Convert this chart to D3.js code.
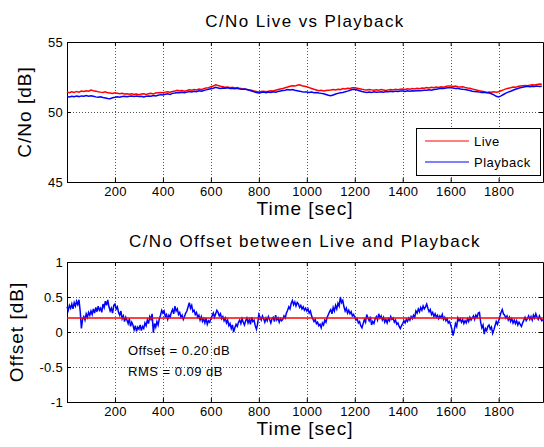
<!DOCTYPE html>
<html>
<head>
<meta charset="utf-8">
<script src="https://cdn.jsdelivr.net/npm/d3@7"></script>
<style>
body{margin:0;background:#fff;}
</style>
</head>
<body>
<script>
// C/No samples every 10 s, offset samples every 5 s
var liveStep=10, offStep=5
var live=[
51.43,51.38,51.45,51.40,51.47,51.42,51.50,51.46,51.52,51.48,
51.57,51.52,51.49,51.45,51.42,51.40,51.44,51.37,51.36,51.32,
51.38,51.34,51.30,51.33,51.28,51.31,51.27,51.30,51.26,51.29,
51.24,51.28,51.31,51.26,51.30,51.33,51.29,51.35,51.38,51.40,
51.37,51.42,51.45,51.41,51.47,51.50,51.55,51.51,51.54,51.49,
51.53,51.58,51.55,51.61,51.57,51.64,51.60,51.67,51.71,51.74,
51.80,51.86,51.95,51.89,51.84,51.81,51.76,51.79,51.74,51.77,
51.72,51.75,51.69,51.66,51.64,51.61,51.58,51.55,51.50,51.47,
51.43,51.46,51.48,51.44,51.49,51.52,51.50,51.55,51.60,51.64,
51.68,51.73,51.78,51.84,51.88,51.85,51.91,51.95,51.88,51.84,
51.80,51.74,51.68,51.62,51.57,51.52,51.55,51.50,51.54,51.56,
51.57,51.61,51.58,51.63,51.60,51.67,51.64,51.70,51.68,51.73,
51.74,51.70,51.66,51.62,51.59,51.57,51.61,51.58,51.55,51.59,
51.56,51.60,51.57,51.54,51.58,51.61,51.58,51.62,51.59,51.63,
51.64,51.61,51.66,51.63,51.68,51.65,51.70,51.67,51.72,51.69,
51.74,51.71,51.76,51.73,51.78,51.75,51.80,51.77,51.83,51.86,
51.86,51.82,51.85,51.80,51.78,51.81,51.76,51.72,51.69,51.65,
51.60,51.56,51.52,51.49,51.45,51.40,51.43,51.41,51.44,51.42,
51.45,51.52,51.58,51.65,51.70,51.73,51.78,51.76,51.82,51.86,
51.88,51.90,51.87,51.92,51.95,51.93,51.97,52.00,51.98]
var playback=[
51.11,51.08,51.12,51.09,51.14,51.10,51.15,51.12,51.17,51.13,
51.16,51.12,51.08,51.05,51.09,51.03,51.00,50.97,50.95,51.02,
51.05,51.09,51.06,51.10,51.13,51.09,51.12,51.15,51.11,51.14,
51.10,51.13,51.08,51.12,51.15,51.12,51.17,51.14,51.20,51.24,
51.22,51.27,51.30,51.26,51.33,51.36,51.40,51.37,51.41,51.38,
51.42,51.46,51.43,51.48,51.45,51.52,51.49,51.54,51.58,51.62,
51.66,51.70,51.76,51.72,51.68,51.71,51.69,51.73,51.68,51.70,
51.66,51.69,51.65,51.63,51.64,51.60,51.55,51.50,51.45,51.40,
51.36,51.39,51.42,51.38,51.43,51.40,51.45,51.42,51.47,51.50,
51.53,51.56,51.60,51.57,51.60,51.55,51.52,51.49,51.45,51.42,
51.42,51.39,51.42,51.38,51.40,51.36,51.33,51.30,51.25,51.20,
51.16,51.22,51.28,51.33,51.37,51.40,51.44,51.49,51.55,51.60,
51.62,51.57,51.52,51.47,51.43,51.40,51.43,51.40,51.44,51.41,
51.42,51.45,51.42,51.46,51.44,51.48,51.45,51.49,51.47,51.50,
51.50,51.47,51.51,51.49,51.52,51.50,51.53,51.51,51.54,51.55,
51.55,51.58,51.56,51.60,51.63,51.66,51.70,51.68,51.72,51.74,
51.74,51.71,51.68,51.70,51.65,51.62,51.60,51.57,51.53,51.49,
51.46,51.44,51.42,51.40,51.41,51.38,51.35,51.30,51.22,51.12,
51.07,51.15,51.25,51.35,51.42,51.48,51.55,51.62,51.68,51.73,
51.77,51.80,51.83,51.81,51.84,51.82,51.85,51.83,51.84]
var offset=[
0.36,0.31,0.38,0.34,0.40,0.33,0.42,0.37,0.44,0.39,0.46,0.30,0.05,0.18,0.22,0.17,0.26,0.21,0.28,0.24,
0.30,0.25,0.33,0.27,0.35,0.29,0.37,0.31,0.34,0.28,0.40,0.35,0.44,0.38,0.46,0.36,0.30,0.34,0.27,0.38,
0.40,0.33,0.36,0.28,0.24,0.30,0.19,0.23,0.15,0.21,0.17,0.12,0.19,0.08,0.14,0.10,0.03,0.09,0.01,0.07,
0.04,0.10,0.02,0.08,0.05,0.13,0.09,0.17,0.12,0.22,0.18,0.26,-0.01,0.12,0.07,0.15,0.10,0.19,0.24,0.31,
0.27,0.30,0.22,0.25,0.18,0.24,0.21,0.28,0.32,0.26,0.37,0.30,0.33,0.25,0.28,0.21,0.24,0.18,0.22,0.27,
0.30,0.36,0.42,0.34,0.38,0.29,0.31,0.25,0.28,0.21,0.24,0.17,0.22,0.15,0.19,0.13,0.20,0.11,0.16,0.14,
0.19,0.23,0.27,0.21,0.26,0.31,0.28,0.23,0.26,0.19,0.22,0.16,0.20,0.13,0.17,0.09,0.12,0.05,0.10,0.00,
0.06,0.11,0.08,0.14,0.17,0.12,0.19,0.14,0.10,0.16,0.20,0.13,0.18,0.11,0.21,0.15,0.17,0.09,0.04,0.12,
0.25,0.21,0.17,0.23,0.19,0.14,0.20,0.16,0.22,0.18,0.13,0.19,0.21,0.15,0.24,0.17,0.20,0.14,0.19,0.16,
0.18,0.23,0.20,0.27,0.31,0.36,0.33,0.41,0.45,0.39,0.43,0.37,0.42,0.40,0.35,0.38,0.33,0.36,0.31,0.34,
0.30,0.33,0.27,0.30,0.23,0.19,0.15,0.18,0.12,0.14,0.09,0.11,0.06,0.13,0.10,0.17,0.14,0.21,0.25,0.29,
0.32,0.26,0.35,0.30,0.38,0.33,0.41,0.37,0.50,0.42,0.45,0.36,0.30,0.34,0.27,0.31,0.26,0.29,0.23,0.25,
0.21,0.17,0.19,0.13,0.15,0.09,0.06,0.12,0.18,0.14,0.25,0.20,0.16,0.22,0.10,0.15,0.12,0.19,0.22,0.17,
0.26,0.20,0.23,0.17,0.21,0.14,0.18,0.13,0.19,0.16,0.22,0.18,0.20,0.14,0.17,0.11,0.13,0.08,0.05,0.09,
0.12,0.16,0.13,0.18,0.15,0.20,0.17,0.22,0.19,0.24,0.21,0.30,0.27,0.33,0.29,0.35,0.31,0.37,0.33,0.36,
0.40,0.34,0.29,0.32,0.25,0.28,0.22,0.26,0.21,0.24,0.19,0.23,0.20,0.25,0.18,0.21,0.16,0.19,0.13,0.15,
0.10,0.04,-0.05,0.03,0.12,0.08,0.20,0.16,0.19,0.14,0.18,0.12,0.16,0.13,0.19,0.15,0.21,0.17,0.20,0.23,
0.18,0.24,0.21,0.27,0.28,0.14,0.06,0.10,-0.03,0.05,0.02,0.08,0.10,0.04,0.07,-0.02,0.03,0.09,0.15,0.11,
0.16,0.22,0.28,0.32,0.26,0.24,0.20,0.23,0.17,0.21,0.15,0.19,0.13,0.17,0.12,0.16,0.10,0.14,0.11,0.08,
0.13,0.17,0.21,0.16,0.19,0.23,0.18,0.22,0.17,0.24,0.20,0.26,0.21,0.18,0.23,0.19,0.16,0.18]
var offsetMean=0.20, offsetRms=0.09
var xTicks=[200,400,600,800,1000,1200,1400,1600,1800]
var yTicksTop=[45,50,55]
var yTicksBot=[-1,-0.5,0,0.5,1]
var xDomain=[0,1985]

var FONT="'Liberation Sans'"
function txt(sel,size,ls){
  return sel.style("font-family",FONT).style("font-size",size+"px")
    .style("letter-spacing",ls+"px").style("font-weight","normal").attr("fill","#000")
}

var svg=d3.select("body").append("svg").attr("width",544).attr("height",447)

var x=d3.scaleLinear().domain(xDomain).range([67,543])

function panel(top,bottom,yDom,yTicks,title,ylab,ylabX){
  var y=d3.scaleLinear().domain(yDom).range([bottom,top])
  var g=svg.append("g")
  // grid
  g.selectAll("line.gx").data(xTicks).enter().append("line")
    .attr("x1",function(d){return Math.round(x(d))+0.5}).attr("x2",function(d){return Math.round(x(d))+0.5})
    .attr("y1",top).attr("y2",bottom)
    .attr("stroke","#555").attr("stroke-dasharray","1,2").attr("stroke-width",1)
  g.selectAll("line.gy").data(yTicks).enter().append("line")
    .attr("y1",function(d){return Math.round(y(d))+0.5}).attr("y2",function(d){return Math.round(y(d))+0.5})
    .attr("x1",67).attr("x2",543)
    .attr("stroke","#555").attr("stroke-dasharray","1,2").attr("stroke-width",1)
  var fmt=function(d){return d}
  g.append("g").attr("transform","translate(0,"+bottom+")")
    .call(d3.axisBottom(x).tickValues(xTicks).tickSize(-4).tickSizeOuter(0).tickPadding(5).tickFormat(fmt))
  g.append("g").attr("transform","translate(0,"+top+")")
    .call(d3.axisTop(x).tickValues(xTicks).tickSize(-4).tickSizeOuter(0).tickFormat(""))
  g.append("g").attr("transform","translate(67,0)")
    .call(d3.axisLeft(y).tickValues(yTicks).tickSize(-4).tickSizeOuter(0).tickPadding(4).tickFormat(fmt))
  g.append("g").attr("transform","translate(543,0)")
    .call(d3.axisRight(y).tickValues(yTicks).tickSize(-4).tickSizeOuter(0).tickFormat(""))
  txt(g.selectAll(".tick text"),13,0.3)
  g.selectAll(".domain").attr("stroke","#000")
  txt(svg.append("text").attr("x",305).attr("y",top-15).attr("text-anchor","middle"),17,1.4).text(title)
  txt(svg.append("text").attr("x",305).attr("y",bottom+33).attr("text-anchor","middle"),19,1).text("Time [sec]")
  txt(svg.append("text").attr("transform","translate("+ylabX+","+((top+bottom)/2)+") rotate(-90)")
    .attr("text-anchor","middle"),19,1).text(ylab)
  return y
}

var y1=panel(42,182,[45,55],yTicksTop,"C/No Live vs Playback","C/No [dB]",31)
var y2=panel(262,402,[-1,1],yTicksBot,"C/No Offset between Live and Playback","Offset [dB]",23)

var lineTop=function(step){
  return d3.line().x(function(d,i){return x(i*step)}).y(function(d){return y1(d)})
}
svg.append("path").attr("d",lineTop(liveStep)(live)).attr("fill","none").attr("stroke","#ff0000").attr("stroke-width",1.5)
svg.append("path").attr("d",lineTop(liveStep)(playback)).attr("fill","none").attr("stroke","#0000ff").attr("stroke-width",1.5)

var lineOff=d3.line().x(function(d,i){return x(i*offStep)}).y(function(d){return y2(d)})
svg.append("path").attr("d",lineOff(offset)).attr("fill","none").attr("stroke","#0000ff").attr("stroke-width",1.5)
svg.append("line").attr("x1",x(xDomain[0])).attr("x2",x(xDomain[1]))
  .attr("y1",y2(offsetMean)).attr("y2",y2(offsetMean)).attr("stroke","#ff0000").attr("stroke-width",1.5)

// legend
var lg=svg.append("g")
lg.append("rect").attr("x",416.5).attr("y",128.5).attr("width",124).attr("height",47)
  .attr("fill","#fff").attr("stroke","#000")
var items=[["Live","#ff0000"],["Playback","#0000ff"]]
items.forEach(function(d,i){
  lg.append("line").attr("x1",425).attr("x2",469).attr("y1",141+i*21).attr("y2",141+i*21)
    .attr("stroke",d[1]).attr("stroke-width",1)
  txt(lg.append("text").attr("x",474).attr("y",145.5+i*21),13,0.5).text(d[0])
})

txt(svg.append("text").attr("x",128).attr("y",355),13,0.5).text("Offset = "+offsetMean.toFixed(2)+" dB")
txt(svg.append("text").attr("x",128).attr("y",375.5),13,0.5).text("RMS = "+offsetRms.toFixed(2)+" dB")
</script>
</body>
</html>
